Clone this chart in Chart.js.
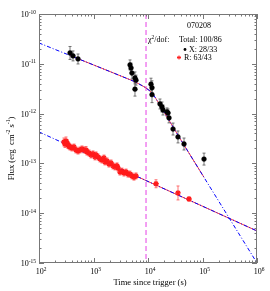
<!DOCTYPE html>
<html>
<head>
<meta charset="utf-8">
<script src="https://cdn.jsdelivr.net/npm/chart.js@4.4.0/dist/chart.umd.min.js"></script>
<style>
html, body { margin: 0; padding: 0; background: #fff; }
</style>
</head>
<body>
<canvas id="myChart" width="270" height="291"></canvas>
<script>
// X-ray light curve (s, erg cm^-2 s^-1), error in dex
const xrayTime = [371, 421, 520, 4680, 4880, 5080, 5770, 6020, 5770, 11350, 11840, 11840,
    16600, 18070, 18840, 22300, 23300, 24300, 28800, 35500, 45800, 106600];
const xrayFlux = [1.65e-11, 1.44e-11, 1.25e-11, 9.5e-12, 8.2e-12, 6.5e-12, 5.2e-12, 4.7e-12, 3.1e-12, 3.9e-12, 3.3e-12, 2.4e-12,
    1.56e-12, 1.36e-12, 1.18e-12, 1.08e-12, 1.03e-12, 8.2e-13, 4.9e-13, 3.4e-13, 2.45e-13, 1.22e-13];
const xrayErr = [0.13, 0.1, 0.1, 0.1, 0.1, 0.12, 0.12, 0.1, 0.14, 0.12, 0.14, 0.16,
    0.1, 0.1, 0.1, 0.08, 0.08, 0.1, 0.12, 0.12, 0.12, 0.12];

// R band light curve
const optTime = [287, 300, 313, 326, 340, 355, 371, 403, 439, 477, 520, 565, 615, 669, 729, 760, 827, 900, 979,
    1065, 1112, 1209, 1316, 1432, 1558, 1626, 1769, 1925, 2095, 2279, 2480, 2699, 2815, 3064, 3334, 3628,
    3948, 4296, 4674, 5086, 5534, 6022, 14030, 35520, 56530];
const optFlux = [2.69e-13, 2.45e-13, 2.82e-13, 2.57e-13, 2.34e-13, 2.24e-13, 2.13e-13, 2.04e-13, 2.13e-13, 1.86e-13,
    1.77e-13, 1.86e-13, 1.95e-13, 1.86e-13, 1.86e-13, 1.69e-13, 1.62e-13, 1.48e-13, 1.55e-13, 1.35e-13, 1.48e-13,
    1.35e-13, 1.23e-13, 1.17e-13, 1.28e-13, 1.07e-13, 1.12e-13, 9.7e-14, 1.02e-13, 8.9e-14, 8.5e-14, 8.9e-14,
    8.1e-14, 6.7e-14, 7.0e-14, 6.4e-14, 6.7e-14, 6.1e-14, 6.1e-14, 5.6e-14, 5.3e-14, 5.6e-14, 3.9e-14, 2.55e-14, 1.93e-14];
const optErr = [0.08, 0.07, 0.08, 0.07, 0.07, 0.06, 0.06, 0.06, 0.06, 0.06, 0.06, 0.06, 0.06, 0.06, 0.07, 0.06,
    0.06, 0.06, 0.06, 0.06, 0.06, 0.06, 0.06, 0.06, 0.06, 0.06, 0.06, 0.06, 0.06, 0.06, 0.06, 0.06, 0.06, 0.06,
    0.06, 0.06, 0.06, 0.06, 0.06, 0.06, 0.06, 0.06, 0.08, 0.14, 0.04];

// fitted models
const xrayModelTime = [100, 5310, 7130, 9180, 11840, 15250, 19660, 45800, 1e6];
const xrayModelFlux = [2.62e-11, 4.52e-12, 3.84e-12, 3.27e-12, 2.59e-12, 1.71e-12, 1.08e-12, 2.34e-13, 1e-15];
const xrayFitTime = [370, 5310, 7130, 9180, 11840, 15250, 19660, 45800, 106600];
const xrayFitFlux = [1.47e-11, 4.52e-12, 3.84e-12, 3.27e-12, 2.59e-12, 1.71e-12, 1.08e-12, 2.34e-13, 5.25e-14];
const optModelTime = [100, 1e6];
const optModelFlux = [4.28e-13, 4.40e-15];
const optFitTime = [280, 1e6];
const optFitFlux = [2.57e-13, 4.40e-15];

const markTime = 9200;

const xTickExp = [2, 3, 4, 5, 6];
const yTickExp = [-10, -11, -12, -13, -14, -15];

const serif = "'Liberation Serif', 'Times New Roman', serif";

function pairs(ts, fs) {
    return ts.map((t, i) => ({x: t, y: fs[i]}));
}

// text with superscript parts: [[text, isSup], ...]
function supText(ctx, parts, x, y, align, size) {
    const small = size * 0.68;
    let w = 0;
    parts.forEach(p => {
        ctx.font = (p[1] ? small : size) + 'px ' + serif;
        w += ctx.measureText(p[0]).width;
    });
    let cx = align === 'right' ? x - w : align === 'center' ? x - w / 2 : x;
    ctx.textAlign = 'left';
    ctx.textBaseline = 'alphabetic';
    parts.forEach(p => {
        ctx.font = (p[1] ? small : size) + 'px ' + serif;
        ctx.fillText(p[0], cx, p[1] ? y - size * 0.42 : y);
        cx += ctx.measureText(p[0]).width;
    });
}

const errorBars = {
    id: 'errorBars',
    beforeDatasetsDraw(chart) {
        const {ctx, scales: {x, y}} = chart;
        ctx.save();
        const draw = (ts, fs, es, color) => {
            ctx.strokeStyle = color;
            ctx.lineWidth = 0.8;
            ts.forEach((t, i) => {
                const px = x.getPixelForValue(t);
                const lo = y.getPixelForValue(fs[i] / Math.pow(10, es[i]));
                const hi = y.getPixelForValue(fs[i] * Math.pow(10, es[i]));
                ctx.beginPath();
                ctx.moveTo(px, lo); ctx.lineTo(px, hi);
                ctx.moveTo(px - 1.5, lo); ctx.lineTo(px + 1.5, lo);
                ctx.moveTo(px - 1.5, hi); ctx.lineTo(px + 1.5, hi);
                ctx.stroke();
            });
        };
        draw(xrayTime, xrayFlux, xrayErr, '#555');
        draw(optTime, optFlux, optErr, '#ff5050');
        ctx.restore();
    }
};

const frame = {
    id: 'frame',
    afterDraw(chart) {
        const {ctx, chartArea: a, scales: {x, y}} = chart;
        ctx.save();
        ctx.strokeStyle = '#777';
        ctx.lineWidth = 1;
        ctx.strokeRect(a.left + 0.5, a.top + 0.5, a.right - a.left - 1, a.bottom - a.top - 1);
        ctx.beginPath();
        for (let e = 2; e <= 6; e++) {
            for (let m = 1; m < 10; m++) {
                if (e === 6 && m > 1) break;
                const px = Math.round(x.getPixelForValue(m * Math.pow(10, e))) + 0.5;
                const len = m === 1 ? 5 : 2.5;
                ctx.moveTo(px, a.bottom); ctx.lineTo(px, a.bottom - len);
                ctx.moveTo(px, a.top); ctx.lineTo(px, a.top + len);
            }
        }
        for (let e = -15; e <= -10; e++) {
            for (let m = 1; m < 10; m++) {
                if (e === -10 && m > 1) break;
                const py = Math.round(y.getPixelForValue(m * Math.pow(10, e))) + 0.5;
                const len = m === 1 ? 5 : 2.5;
                ctx.moveTo(a.left, py); ctx.lineTo(a.left + len, py);
                ctx.moveTo(a.right, py); ctx.lineTo(a.right - len, py);
            }
        }
        ctx.stroke();

        ctx.fillStyle = '#000';
        xTickExp.forEach(e => {
            const px = x.getPixelForValue(Math.pow(10, e));
            supText(ctx, [['10', false], [String(e), true]], px + 2, a.bottom + 11, 'center', 8);
        });
        yTickExp.forEach(e => {
            const py = y.getPixelForValue(Math.pow(10, e));
            supText(ctx, [['10', false], [String(e), true]], a.left - 3, py + 3, 'right', 8);
        });

        supText(ctx, [['Time since trigger (s)', false]], (a.left + a.right) / 2 + 2, a.bottom + 22, 'center', 8.5);
        ctx.save();
        ctx.translate(14, (a.top + a.bottom) / 2 + 10);
        ctx.rotate(-Math.PI / 2);
        supText(ctx, [['Flux (erg  cm', false], ['-2', true], [' s', false], ['-1', true], [')', false]], 0, 0, 'center', 8.5);
        ctx.restore();

        // legend block
        supText(ctx, [['070208', false]], 199, 28, 'center', 8);
        supText(ctx, [['\u03c7', false], ['2', true], ['/dof:', false]], 148, 42, 'left', 8);
        supText(ctx, [['Total: 100/86', false]], 179, 42, 'left', 8);
        supText(ctx, [['X: 28/33', false]], 189, 52, 'left', 8);
        supText(ctx, [['R: 63/43', false]], 184, 60, 'left', 8);
        ctx.beginPath();
        ctx.arc(185, 49.5, 1.4, 0, Math.PI * 2);
        ctx.fill();
        ctx.strokeStyle = '#ff2020';
        ctx.lineWidth = 1;
        ctx.beginPath();
        for (let k = 0; k < 4; k++) {
            const ang = k * Math.PI / 4;
            ctx.moveTo(179 - 2 * Math.cos(ang), 57.5 - 2 * Math.sin(ang));
            ctx.lineTo(179 + 2 * Math.cos(ang), 57.5 + 2 * Math.sin(ang));
        }
        ctx.stroke();
        ctx.restore();
    }
};

const canvas = document.getElementById('myChart');
const ctx = canvas.getContext('2d');
const myChart = new Chart(ctx, {
    type: 'scatter',
    data: {
        datasets: [
            {
                label: 'X',
                data: pairs(xrayTime, xrayFlux),
                pointStyle: 'circle',
                pointRadius: 2.4,
                backgroundColor: '#000',
                borderColor: '#000',
                borderWidth: 0.5
            },
            {
                label: 'R',
                data: pairs(optTime, optFlux),
                pointStyle: 'star',
                pointRadius: 2.8,
                backgroundColor: '#ff0000',
                borderColor: '#ff1a1a',
                borderWidth: 1.3
            },
            {
                type: 'line',
                data: pairs(xrayModelTime, xrayModelFlux),
                borderColor: '#0000ff',
                borderWidth: 1,
                borderDash: [4, 2, 1, 2],
                pointRadius: 0,
                tension: 0.3
            },
            {
                type: 'line',
                data: pairs(optModelTime, optModelFlux),
                borderColor: '#0000ff',
                borderWidth: 1,
                borderDash: [4, 2, 1, 2],
                pointRadius: 0
            },
            {
                type: 'line',
                data: pairs(xrayFitTime, xrayFitFlux),
                borderColor: '#ff4040',
                borderWidth: 1,
                pointRadius: 0,
                tension: 0.3
            },
            {
                type: 'line',
                data: pairs(optFitTime, optFitFlux),
                borderColor: '#ff4040',
                borderWidth: 1,
                pointRadius: 0
            },
            {
                type: 'line',
                data: [{x: markTime, y: 1e-10}, {x: markTime, y: 1e-15}],
                borderColor: '#ee77ee',
                borderWidth: 1.4,
                borderDash: [5, 3],
                pointRadius: 0
            }
        ]
    },
    options: {
        responsive: false,
        animation: false,
        layout: {padding: {left: 39, right: 13, top: 14, bottom: 28}},
        plugins: {legend: {display: false}, tooltip: {enabled: false}},
        scales: {
            x: {type: 'logarithmic', min: 100, max: 1e6, display: false},
            y: {type: 'logarithmic', min: 1e-15, max: 1e-10, display: false}
        }
    },
    plugins: [errorBars, frame]
});
</script>
</body>
</html>
